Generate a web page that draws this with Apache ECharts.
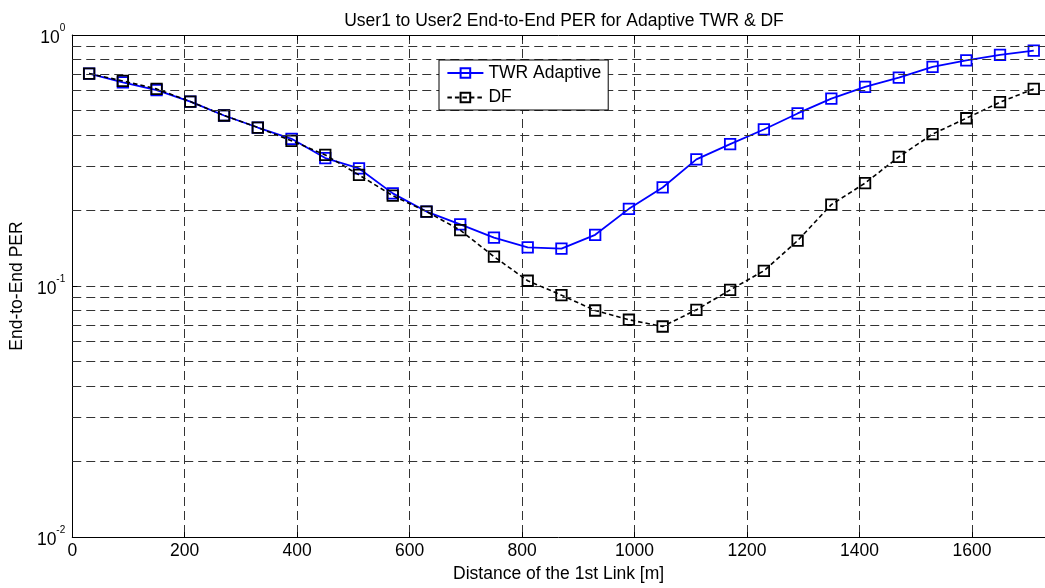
<!DOCTYPE html>
<html>
<head>
<meta charset="utf-8">
<script src="https://cdn.jsdelivr.net/npm/echarts@6/dist/echarts.min.js"></script>
<style>
html,body{margin:0;padding:0;background:#fff;}
#chart{width:1045px;height:588px;}
</style>
</head>
<body>
<div id="chart"></div>
<script>
const distances = [30,90,150,210,270,330,390,450,510,570,630,690,750,810,870,930,990,1050,1110,1170,1230,1290,1350,1410,1470,1530,1590,1650,1710];
const twrAdaptive = [0.702,0.648,0.603,0.543,0.478,0.428,0.386,0.3235,0.294,0.234,0.198,0.176,0.156,0.1427,0.141,0.160,0.203,0.247,0.3195,0.3676,0.4205,0.487,0.558,0.621,0.677,0.746,0.793,0.833,0.867];
const dfValues = [0.702,0.656,0.610,0.543,0.478,0.428,0.379,0.333,0.277,0.229,0.198,0.167,0.131,0.105,0.092,0.0799,0.0734,0.069,0.0804,0.0965,0.115,0.1517,0.211,0.257,0.327,0.403,0.466,0.540,0.610];
const minorGridValues = [0.02,0.03,0.04,0.05,0.06,0.07,0.08,0.09,0.2,0.3,0.4,0.5,0.6,0.7,0.8,0.9];

const FONT = "'Liberation Sans', Arial, sans-serif";
const FS = 17.5;
const gridDash = [9,5];

const chart = echarts.init(document.getElementById('chart'), null, {renderer:'canvas'});

function pair(vals){ return distances.map((d,i)=>[d, vals[i]]); }

const option = {
  backgroundColor:'#fff',
  animation:false,
  textStyle:{fontFamily:FONT},
  title:{
    text:'User1 to User2 End-to-End PER for Adaptive TWR & DF',
    left:559, top:7, textAlign:'center',
    textStyle:{fontFamily:FONT, fontSize:FS, fontWeight:'normal', color:'#000'}
  },
  legend:{
    orient:'vertical',
    left:439, top:60,
    data:['TWR Adaptive','DF'],
    itemWidth:36, itemHeight:12, itemGap:6.5,
    padding:[4,7,3.5,7.4],
    backgroundColor:'#fff',
    borderColor:'#000', borderWidth:1, borderRadius:0,
    textStyle:{fontFamily:FONT, fontSize:FS, color:'#000'},
    z:20
  },
  grid:{left:67.5, right:-5.6, top:35, bottom:50, containLabel:false},
  xAxis:[{
    type:'value', min:0, max:1730, interval:200,
    name:'Distance of the 1st Link [m]', nameLocation:'middle', nameGap:25,
    nameTextStyle:{fontFamily:FONT, fontSize:FS, color:'#000'},
    axisLine:{show:true, onZero:false, lineStyle:{color:'#000', width:1}},
    axisTick:{show:true, inside:true, length:5, lineStyle:{color:'#000'}},
    axisLabel:{fontFamily:FONT, fontSize:FS, color:'#000', margin:5, showMaxLabel:false,
      formatter:function(v){ return String(v); }},
    splitLine:{show:true, lineStyle:{color:'#333', width:1, type:gridDash}}
  },{
    type:'value', min:0, max:1730, interval:200, position:'top',
    axisLine:{show:true, onZero:false, lineStyle:{color:'#000', width:1}},
    axisTick:{show:true, inside:true, length:5, lineStyle:{color:'#000'}},
    axisLabel:{show:false},
    splitLine:{show:false}
  }],
  yAxis:{
    type:'log', logBase:10, min:0.01, max:1,
    name:'End-to-End PER', nameLocation:'middle', nameGap:40, nameRotate:90,
    nameTextStyle:{fontFamily:FONT, fontSize:FS, color:'#000'},
    axisLine:{show:true, onZero:false, lineStyle:{color:'#000', width:1}},
    axisTick:{show:true, inside:true, length:5, lineStyle:{color:'#000'}},
    axisLabel:{
      margin:7,
      formatter:function(v){
        const key = Math.round(Math.log10(v));
        return '{b|10}{s|' + String(key) + '}';
      },
      rich:{
        b:{fontFamily:FONT, fontSize:FS, color:'#000', padding:[6.5,0,0,0], verticalAlign:'bottom'},
        s:{fontFamily:FONT, fontSize:10, color:'#000', verticalAlign:'top'}
      }
    },
    splitLine:{show:true, lineStyle:{color:'#333', width:1, type:gridDash}}
  },
  series:[
    {
      name:'gridlines', type:'line', data:[], z:1, silent:true,
      markLine:{
        silent:true, symbol:['none','none'], animation:false,
        label:{show:false},
        lineStyle:{color:'#333', width:1, type:gridDash},
        emphasis:{disabled:true},
        data: minorGridValues.map(v=>({yAxis:v}))
      }
    },
    {
      name:'TWR Adaptive', type:'line', data:pair(twrAdaptive), z:3,
      symbol:'rect', symbolSize:10.5,
      lineStyle:{color:'#0000ff', width:1.8, type:'solid'},
      itemStyle:{color:'rgba(0,0,0,0)', borderColor:'#0000ff', borderWidth:1.8},
      emphasis:{disabled:true}
    },
    {
      name:'DF', type:'line', data:pair(dfValues), z:4,
      symbol:'rect', symbolSize:10.5,
      lineStyle:{color:'#000', width:1.6, type:[4.5,3]},
      itemStyle:{color:'rgba(0,0,0,0)', borderColor:'#000', borderWidth:1.8},
      emphasis:{disabled:true}
    }
  ]
};
chart.setOption(option);
</script>
</body>
</html>
